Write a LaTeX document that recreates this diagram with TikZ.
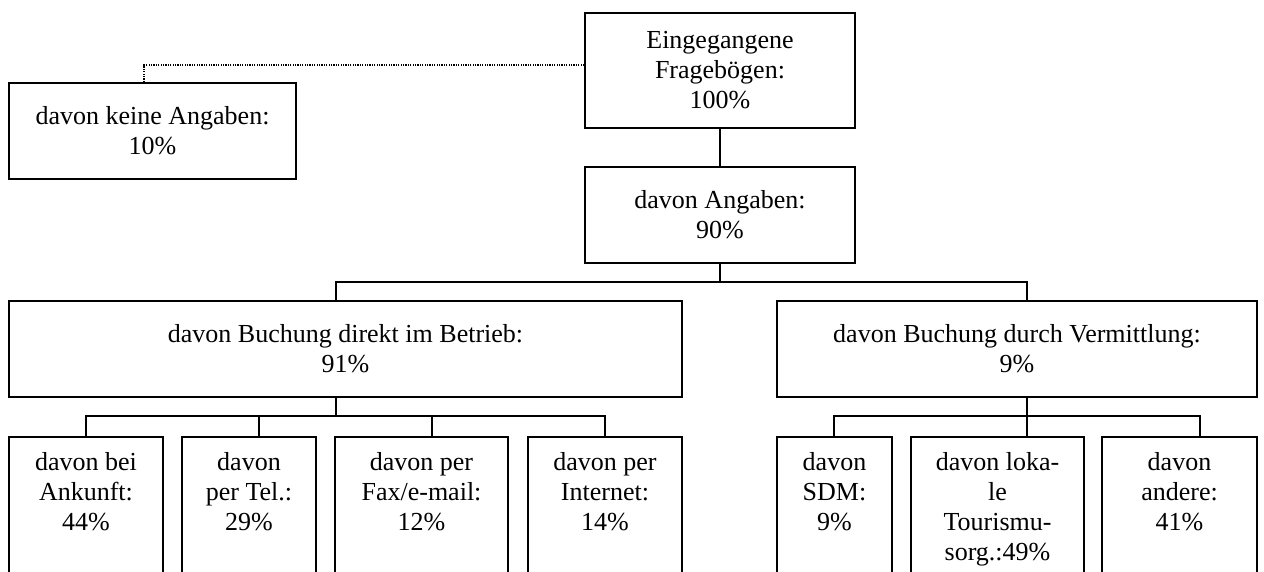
\documentclass[tikz,border=0pt]{standalone}
\usepackage{fontspec}
\setmainfont{Liberation Serif}
\usepackage{tikz}
\usetikzlibrary{positioning}
\tikzset{box/.style={draw,line width=0.9pt,align=center,inner sep=0pt,font=\fontsize{13}{15}\selectfont},
  sub/.style={box,anchor=north,inner ysep=8pt,text depth=60pt,minimum height=100pt},
  lnk/.style={line width=0.9pt},
  dots/.style={line width=0.7pt,dash pattern=on 0.6pt off 0.6pt}}

\begin{document}
\begin{tikzpicture}[x=0.5pt,y=-0.5pt]
        \path[use as bounding box,clip] (0,0) rectangle (1264,572);
        \node[box,minimum width=143.5pt,minimum height=48pt] (keine) at (152.5,131) {davon keine Angaben:\\10\%};
        \node[box,minimum width=135pt,minimum height=57.5pt] (frage) at (720,70.5) {Eingegangene\\Fragebögen:\\100\%};
        \node[box,minimum width=135pt,minimum height=48pt] (angaben) at (720,215) {davon Angaben:\\90\%};
        \node[box,minimum width=336.5pt,minimum height=48pt] (direkt) at (345.5,349) {davon Buchung direkt im Betrieb:\\91\%};
        \node[box,minimum width=240pt,minimum height=48pt] (vermittl) at (1017,349) {davon Buchung durch Vermittlung:\\9\%};

        \node[sub,minimum width=77pt] (ankunft) at (86,436) {davon bei\\Ankunft:\\44\%};
        \node[sub,minimum width=67pt] (tel) at (249,436) {davon\\per Tel.:\\29\%};
        \node[sub,minimum width=86.5pt] (fax) at (421.5,436) {davon per\\Fax/e-mail:\\12\%};
        \node[sub,minimum width=77pt] (internet) at (605,436) {davon per\\Internet:\\14\%};
        \node[sub,minimum width=57.5pt] (sdm) at (834.5,436) {davon\\SDM:\\9\%};
        \node[sub,minimum width=86.5pt] (lokal) at (997.5,436) {davon loka-\\le\\Tourismu-\\sorg.:49\%};
        \node[sub,minimum width=77.5pt] (andere) at (1179.5,436) {davon\\andere:\\41\%};

        \coordinate (m1) at (336,282);
        \coordinate (m2) at (1027,282);
        \coordinate (u1) at (86,416);
        \coordinate (u2) at (259,416);
        \coordinate (u3) at (432,416);
        \coordinate (u4) at (605,416);
        \coordinate (v1) at (834,416);
        \coordinate (v3) at (1200,416);
        \coordinate (d1) at (144,65);

        \draw [lnk] (frage) -- (angaben);
        \draw [lnk] (angaben) -- (angaben.south |- m1);
        \draw [lnk] (m1 |- direkt.north) -- (m1) -- (m2) -- (m2 |- vermittl.north);
        \draw [lnk] (m1 |- direkt.south) -- (m1 |- u1);
        \draw [lnk] (u1 |- ankunft.north) -- (u1) -- (u4) -- (u4 |- internet.north);
        \draw [lnk] (u2) -- (u2 |- tel.north);
        \draw [lnk] (u3) -- (u3 |- fax.north);
        \draw [lnk] (m2 |- vermittl.south) -- (m2 |- lokal.north);
        \draw [lnk] (v1 |- sdm.north) -- (v1) -- (v3) -- (v3 |- andere.north);
        \draw [dots] (d1 -| frage.west) -- (d1) -- (d1 |- keine.north);
    \end{tikzpicture}
\end{document}
